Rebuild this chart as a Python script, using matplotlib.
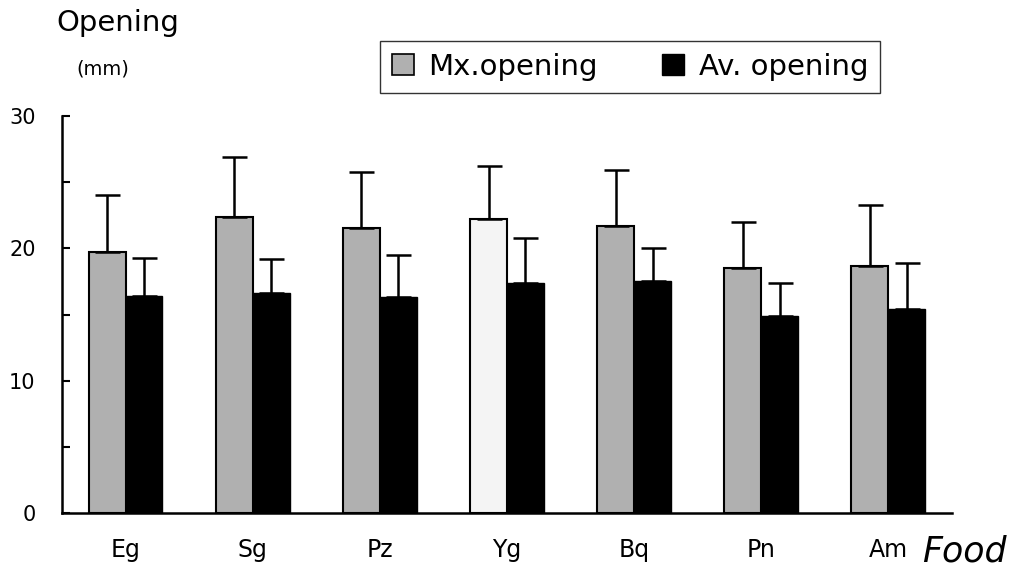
import numpy as np
import matplotlib
matplotlib.use('Agg')
import matplotlib.pyplot as plt
from matplotlib.patches import Patch

plt.rcParams['font.family'] = ['DejaVu Sans']

# food types and opening values (mm)
foods = ['Eg', 'Sg', 'Pz', 'Yg', 'Bq', 'Pn', 'Am']
mx_open = [19.7, 22.4, 21.5, 22.2, 21.7, 18.5, 18.7]
mx_sd = [4.3, 4.5, 4.3, 4.0, 4.2, 3.5, 4.6]
av_open = [16.4, 16.6, 16.3, 17.4, 17.5, 14.9, 15.4]
av_sd = [2.9, 2.6, 3.2, 3.4, 2.5, 2.5, 3.5]

gray = '#b0b0b0'
mx_colors = [gray, gray, gray, '#f4f4f4', gray, gray, gray]

fig = plt.figure(figsize=(10.26, 5.67), dpi=100)
ax = fig.add_axes([0.0604, 0.0952, 0.8674, 0.7002])

x = np.arange(len(foods))
w = 0.29
err_kw = dict(elinewidth=1.8, capsize=9, capthick=1.8, ecolor='black')

ax.bar(x - w / 2, mx_open, w, color=mx_colors, edgecolor='black', linewidth=1.5,
       yerr=[np.zeros(len(x)), mx_sd], error_kw=err_kw, zorder=2)
ax.bar(x + w / 2, av_open, w, color='black', edgecolor='black', linewidth=1.0,
       yerr=[np.zeros(len(x)), av_sd], error_kw=err_kw, zorder=2)

ax.set_xlim(-0.5, 6.5)
ax.set_ylim(0, 30)
ax.set_yticks([0, 10, 20, 30])
ax.set_yticks([5, 15, 25], minor=True)
ax.tick_params(axis='y', which='both', direction='in', length=6, width=1.5,
               labelsize=15, pad=19)
ax.tick_params(axis='x', length=0, labelsize=17, pad=18)
ax.set_xticks(x)
ax.set_xticklabels(foods)

for s in ['top', 'right']:
    ax.spines[s].set_visible(False)
ax.spines['left'].set_linewidth(1.8)
ax.spines['bottom'].set_linewidth(1.8)

fig.text(0.055, 0.96, 'Opening', fontsize=21, ha='left', va='center')
fig.text(0.074, 0.878, '(mm)', fontsize=14, ha='left', va='center')
fig.text(0.899, 0.028, 'Food', fontsize=25, style='italic', ha='left', va='center')

handles = [Patch(facecolor=gray, edgecolor='black', linewidth=1.2),
           Patch(facecolor='black', edgecolor='black')]
leg = fig.legend(handles, ['Mx.opening', 'Av. opening'], ncol=2,
                 loc='center', bbox_to_anchor=(0.614, 0.882),
                 fontsize=21, frameon=True, fancybox=False,
                 handlelength=0.75, handleheight=0.75, handletextpad=0.5,
                 columnspacing=2.2, borderpad=0.4, borderaxespad=0)
leg.get_frame().set_edgecolor('black')
leg.get_frame().set_linewidth(1.0)

fig.savefig('out.png', dpi=100)
